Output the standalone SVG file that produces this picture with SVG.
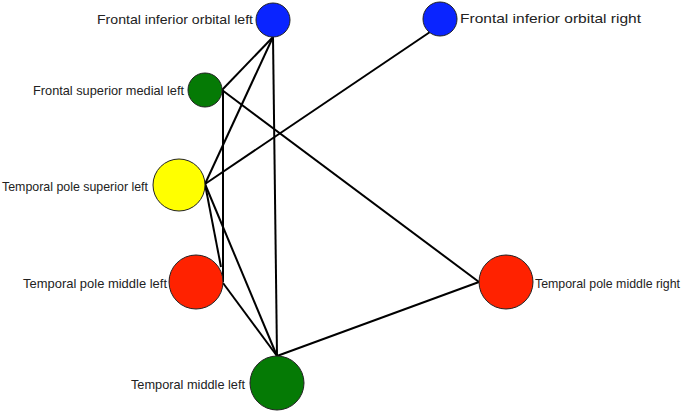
<svg xmlns="http://www.w3.org/2000/svg" width="685" height="413" viewBox="0 0 685 413">
<style>
.e{stroke:#000;stroke-width:2;fill:none}
circle{stroke:#222;stroke-width:1}
.blue{fill:#0a24ff}
.green{fill:#057a05}
.yellow{fill:#ffff00}
.red{fill:#ff2200}
text{font-family:"Liberation Sans",Arial,sans-serif;font-size:13px;fill:#222}
.l{text-anchor:end}
.s{font-size:12.2px}
</style>
<rect width="685" height="413" fill="#fff"/>
<g id="edges">
<line class="e" x1="273" y1="37" x2="222" y2="90"/>
<line class="e" x1="273" y1="37" x2="205" y2="184"/>
<line class="e" x1="273" y1="37" x2="277" y2="356"/>
<line class="e" x1="430" y1="32" x2="205" y2="184"/>
<line class="e" x1="223" y1="90" x2="223" y2="282"/>
<line class="e" x1="222" y1="90" x2="479" y2="282"/>
<line class="e" x1="205" y1="184" x2="221" y2="267"/>
<line class="e" x1="205" y1="184" x2="277" y2="356"/>
<line class="e" x1="223" y1="283" x2="277" y2="356"/>
<line class="e" x1="479" y1="282" x2="277" y2="356"/>
</g>
<g id="fiol"><circle class="blue" cx="273" cy="20" r="17"/><text class="l" x="253" y="24" textLength="156" lengthAdjust="spacingAndGlyphs">Frontal inferior orbital left</text></g>
<g id="fior"><circle class="blue" cx="440" cy="19" r="17"/><text x="460" y="23" textLength="181" lengthAdjust="spacingAndGlyphs">Frontal inferior orbital right</text></g>
<g id="fsml"><circle class="green" cx="205" cy="90" r="17"/><text class="l" x="184" y="95" textLength="151" lengthAdjust="spacingAndGlyphs">Frontal superior medial left</text></g>
<g id="tpsl"><circle class="yellow" cx="179" cy="185" r="26"/><text class="l" x="148" y="191" textLength="146" lengthAdjust="spacingAndGlyphs">Temporal pole superior left</text></g>
<g id="tpml"><circle class="red" cx="196" cy="282" r="27"/><text class="l" x="167" y="288" textLength="144" lengthAdjust="spacingAndGlyphs">Temporal pole middle left</text></g>
<g id="tpmr"><circle class="red" cx="506" cy="282" r="27"/><text class="s" x="535" y="288" textLength="145" lengthAdjust="spacingAndGlyphs">Temporal pole middle right</text></g>
<g id="tml"><circle class="green" cx="277" cy="383" r="27"/><text class="l" x="245" y="389" textLength="114" lengthAdjust="spacingAndGlyphs">Temporal middle left</text></g>
</svg>
